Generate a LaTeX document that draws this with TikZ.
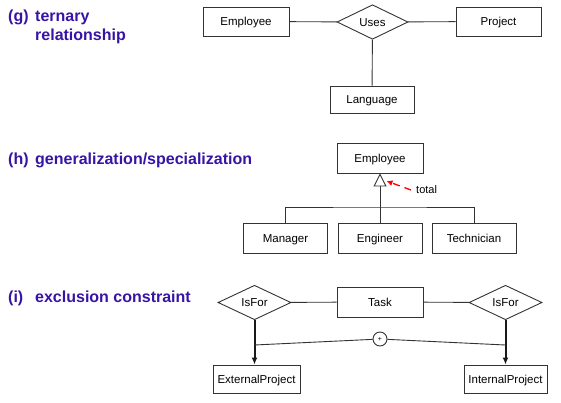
\documentclass[tikz,border=0pt]{standalone}
\usepackage{fontspec}
\setmainfont{Liberation Sans}
\usetikzlibrary{shapes.geometric}
\usetikzlibrary{arrows.meta}
\usetikzlibrary{calc}
\definecolor{labelblue}{RGB}{55,20,165}
\tikzset{entity/.style={draw=black!80,line width=0.9pt,minimum width=86pt,minimum height=29pt,inner sep=1pt,text height=8.3pt,text depth=0pt,font=\fontsize{11.5}{13}\selectfont},
relship/.style={draw=black!80,line width=0.9pt,diamond,inner sep=0pt,minimum width=72pt,minimum height=32pt,text height=8.3pt,text depth=0pt,font=\fontsize{11.5}{13}\selectfont},
title/.style={anchor=base west,inner sep=0pt,text=labelblue,font=\fontsize{16}{19}\selectfont\bfseries,align=left},
link/.style={draw=black!80,line width=0.9pt}}
\begin{document}
\begin{tikzpicture}[x=1pt,y=-1pt]
\useasboundingbox (0,0) rectangle (561,402);
% section titles
\node[title] (tg) at (8,21) {(g)};
\node[title] (tgtext) at (35,40) {ternary\\relationship};
\node[title] (th) at (8,164) {(h)};
\node[title] (thtext) at (35,164) {generalization/specialization};
\node[title] (ti) at (8,302) {(i)};
\node[title] (titext) at (35,302) {exclusion constraint};
% (g) ternary relationship
\node[entity] (emp) at (246,21.5) {Employee};
\node[relship,minimum width=71pt,minimum height=34pt] (uses) at (372.5,22) {Uses};
\node[entity,minimum width=85pt] (proj) at (498.5,21.5) {Project};
\node[entity,minimum width=84pt,minimum height=27pt] (lang) at (372,99.5) {Language};
\draw[link] (emp) -- (uses);
\draw[link] (uses) -- (proj);
\draw[link] (uses) -- (lang);
% (h) generalization/specialization
\node[entity,minimum height=30pt] (super) at (380,158) {Employee};
\node[entity,minimum width=84pt,minimum height=30pt] (man) at (285.5,238) {Manager};
\node[entity,minimum width=84pt,minimum height=30pt] (eng) at (380,238) {Engineer};
\node[entity,minimum width=84pt,minimum height=30pt] (tech) at (474,238) {Technician};
\coordinate (bar) at (380,207);
\draw[link,-{Triangle[open,width=13pt,length=13pt,line width=0.9pt]}] (eng.north) -- (super.south);
\draw[link] (man.north) |- (bar) -| (tech.north);
\node[anchor=west,inner sep=0pt,font=\fontsize{11}{13}\selectfont] (total) at (416,190) {total};
\coordinate (tri) at (386.5,181);
\draw[red,line width=1.3pt,dash pattern=on 7pt off 5pt,-{Latex[length=6pt,width=6pt]}] ($(total.west)+(-5,0)$) -- (tri);
% (i) exclusion constraint
\node[relship,minimum width=73pt,minimum height=31pt] (forl) at (254.5,302.5) {IsFor};
\node[entity,minimum height=30pt] (task) at (380,302) {Task};
\node[relship,minimum width=73pt,minimum height=31pt] (forr) at (505.5,302.5) {IsFor};
\node[entity,minimum width=87pt,minimum height=28pt] (extp) at (256.5,379) {ExternalProject};
\node[entity,minimum width=83pt,minimum height=28pt] (intp) at (505.5,379) {InternalProject};
\draw[link] (forl) -- (task);
\draw[link] (task) -- (forr);
\draw[black!90,line width=2pt,-{Latex[length=7pt,width=6pt]}] (forl.south) -- (forl.south |- extp.north);
\draw[black!90,line width=2pt,-{Latex[length=7pt,width=6pt]}] (forr.south) -- (forr.south |- intp.north);
\node[draw=black!80,line width=0.9pt,circle,minimum size=14pt,inner sep=0pt,font=\fontsize{7}{8}\selectfont] (excl) at (380,339) {+};
\coordinate (exl) at (254.5,345);
\coordinate (exr) at (505.5,345);
\draw[link] (excl) -- (exl);
\draw[link] (excl) -- (exr);
\end{tikzpicture}
\end{document}
